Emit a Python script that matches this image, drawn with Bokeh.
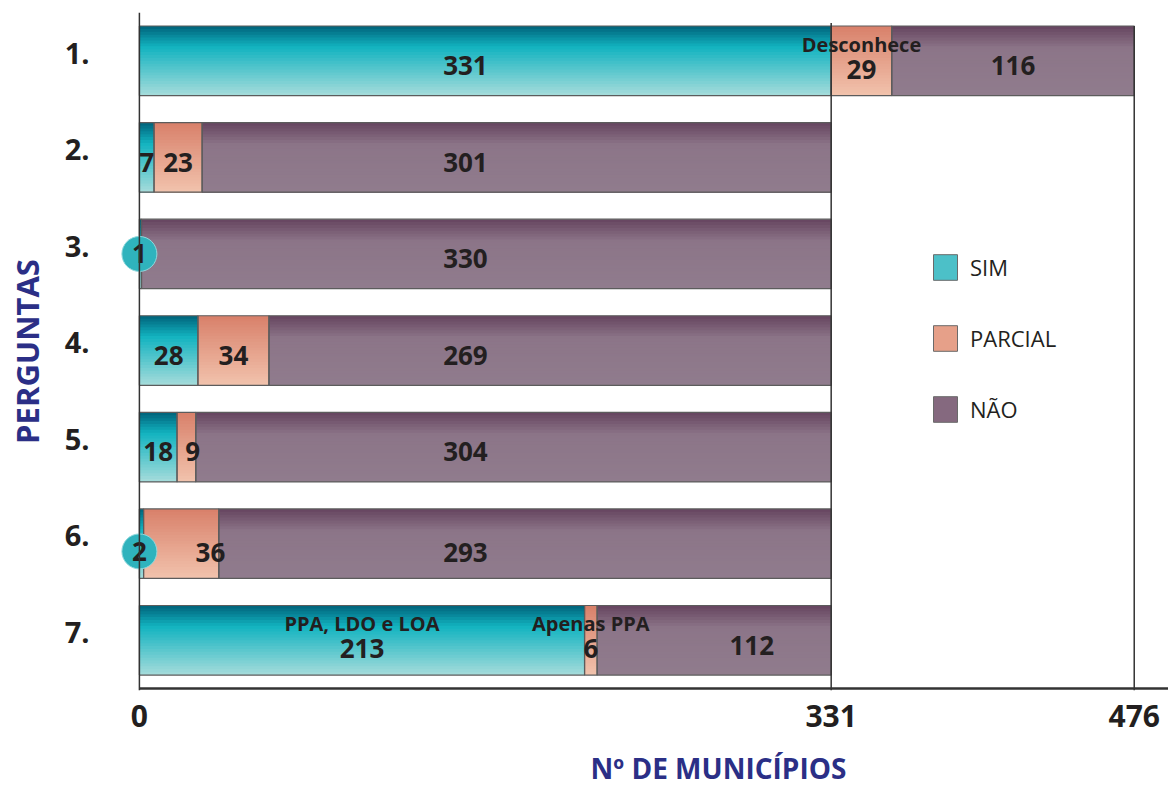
from bokeh.plotting import figure
from bokeh.models import (ColumnDataSource, FixedTicker, Legend, LegendItem,
                          Title, Range1d, Span)
from bokeh.embed import file_html
from bokeh.resources import INLINE
from bokeh.core.properties import value

# ---------------- data ----------------
questions = ["1.", "2.", "3.", "4.", "5.", "6.", "7."]
categories = ["SIM", "PARCIAL", "NÃO"]
sim = [331, 7, 1, 28, 18, 2, 213]
parcial = [29, 23, 0, 34, 9, 36, 6]
nao = [116, 301, 330, 269, 304, 293, 112]
# extra text shown above some segments: (question index, category index) -> text
sublabels = {(0, 1): "Desconhece", (6, 0): "PPA, LDO e LOA", (6, 1): "Apenas PPA"}

# ---------------- style ----------------
FONT = "Open Sans"
TXT = "#231f20"
NAVY = "#2b2f86"
BAR_H = 0.72
N_BANDS = 24
X_MIN, X_MAX = -10, 492.4
gradients = {
    "SIM": [(0.0, "#00627a"), (0.3, "#12b3c0"), (1.0, "#a6dcdb")],
    "PARCIAL": [(0.0, "#d8806a"), (1.0, "#f2c3ad")],
    "NÃO": [(0.0, "#66445f"), (0.32, "#8c7588"), (1.0, "#907c8d")],
}
legend_colors = {"SIM": "#4cc0c8", "PARCIAL": "#e6a089", "NÃO": "#85697f"}
nudges = {(5, 1): 14, (6, 2): 18, (4, 1): 3}   # label x nudges (style)


def hex2rgb(h):
    h = h.lstrip("#")
    return tuple(int(h[i:i + 2], 16) for i in (0, 2, 4))


def grad(stops, t):
    for (t0, c0), (t1, c1) in zip(stops, stops[1:]):
        if t <= t1:
            f = (t - t0) / (t1 - t0) if t1 > t0 else 0
            a, b = hex2rgb(c0), hex2rgb(c1)
            return "#%02x%02x%02x" % tuple(round(a[i] + (b[i] - a[i]) * f) for i in range(3))
    return stops[-1][1]


series = [sim, parcial, nao]
totals = [sum(s[i] for s in series) for i in range(len(questions))]
common_total = min(totals)
max_total = max(totals)

bands = dict(left=[], right=[], top=[], bottom=[], color=[])
borders = dict(left=[], right=[], top=[], bottom=[])
labels = dict(x=[], y=[], text=[])
sublab = dict(x=[], y=[], text=[])
dots = dict(x=[], y=[], text=[])

for r in range(len(questions)):
    yc = r + 1
    cum = 0
    for c, cat in enumerate(categories):
        v = series[c][r]
        if v <= 0:
            continue
        left, right = cum, cum + v
        cum = right
        top = yc - BAR_H / 2
        bot = yc + BAR_H / 2
        for k in range(N_BANDS):
            bands["left"].append(left)
            bands["right"].append(right)
            bands["top"].append(top + k * BAR_H / N_BANDS)
            bands["bottom"].append(bot)
            bands["color"].append(grad(gradients[cat], (k + 0.5) / N_BANDS))
        borders["left"].append(left)
        borders["right"].append(right)
        borders["top"].append(top)
        borders["bottom"].append(bot)
        has_sub = (r, c) in sublabels
        dy = 0.09 if (has_sub or r == 5) else 0.05
        if v <= 2:
            dots["x"].append(left)
            dots["y"].append(yc + (0.08 if r == 5 else 0.0))
            dots["text"].append(str(v))
            continue
        if v > 250:
            lx = 156
        else:
            lx = (left + right) / 2 + nudges.get((r, c), 0)
        labels["x"].append(lx)
        labels["y"].append(yc + dy)
        labels["text"].append(str(v))
        if has_sub:
            sublab["x"].append(lx)
            sublab["y"].append(yc - 0.17)
            sublab["text"].append(sublabels[(r, c)])

# ---------------- figure ----------------
p = figure(width=1168, height=803, output_backend="svg", toolbar_location=None,
           x_range=Range1d(X_MIN, X_MAX), y_range=Range1d(7.52, 0.5),
           min_border_left=118, min_border_right=0, min_border_top=12, min_border_bottom=112)
p.outline_line_color = None
p.grid.visible = False
p.background_fill_color = "white"

p.quad(left="left", right="right", top="top", bottom="bottom", fill_color="color",
       line_color=None, source=ColumnDataSource(bands))
p.quad(left="left", right="right", top="top", bottom="bottom", fill_color=None,
       line_color="#5c5c5c", line_width=1.2, source=ColumnDataSource(borders))

# reference lines
p.add_layout(Span(location=0, dimension="height", line_color="#333333", line_width=1.5))
p.segment(x0=[common_total, max_total], x1=[common_total, max_total],
          y0=[1 - BAR_H / 2 - 0.03, 1 - BAR_H / 2], y1=[7.52, 7.52],
          line_color="#333333", line_width=1.5)
p.segment(x0=[0], x1=[X_MAX], y0=[7.5], y1=[7.5], line_color="#333333", line_width=2.5)

p.text(x="x", y="y", text="text", source=ColumnDataSource(labels),
       text_font=value(FONT), text_font_style="bold", text_font_size="26px",
       text_color=TXT, text_align="center", text_baseline="middle")
p.text(x="x", y="y", text="text", source=ColumnDataSource(sublab),
       text_font=value(FONT), text_font_style="bold", text_font_size="20px",
       text_color=TXT, text_align="center", text_baseline="middle")
p.scatter(x="x", y="y", source=ColumnDataSource(dots), size=35,
          fill_color="#2fb3bd", line_color="#8fd8dc", line_width=1)
p.text(x="x", y="y", text="text", source=ColumnDataSource(dots),
       text_font=value(FONT), text_font_style="bold", text_font_size="26px",
       text_color=TXT, text_align="center", text_baseline="middle")

# axes
yticks = [r + 1 - 0.08 for r in range(len(questions))]
p.yaxis.ticker = FixedTicker(ticks=yticks)
p.yaxis.major_label_overrides = {t: q for t, q in zip(yticks, questions)}
p.yaxis.axis_line_color = None
p.yaxis.major_tick_line_color = None
p.yaxis.minor_tick_line_color = None
p.yaxis.major_tick_out = 0
p.yaxis.major_label_standoff = 29
p.yaxis.major_label_text_font = FONT
p.yaxis.major_label_text_font_style = "bold"
p.yaxis.major_label_text_font_size = "29px"
p.yaxis.major_label_text_color = TXT
p.yaxis.axis_label = "PERGUNTAS"
p.yaxis.axis_label_text_font = FONT
p.yaxis.axis_label_text_font_style = "bold"
p.yaxis.axis_label_text_font_size = "31px"
p.yaxis.axis_label_text_color = NAVY
p.yaxis.axis_label_standoff = 14

p.xaxis.ticker = FixedTicker(ticks=[0, common_total, max_total])
p.xaxis.axis_line_color = None
p.xaxis.major_tick_line_color = None
p.xaxis.minor_tick_line_color = None
p.xaxis.major_tick_out = 0
p.xaxis.major_label_standoff = 14
p.xaxis.major_label_text_font = FONT
p.xaxis.major_label_text_font_style = "bold"
p.xaxis.major_label_text_font_size = "30px"
p.xaxis.major_label_text_color = TXT

p.add_layout(Title(text="Nº DE MUNICÍPIOS", align="left", offset=472,
                   vertical_align="bottom",
                   text_font=FONT, text_font_style="bold", text_font_size="28px",
                   text_color=NAVY, standoff=34), "below")

# legend (proxy renderers placed outside the visible range)
items = []
for cat in categories:
    rr = p.quad(left=[X_MIN - 50], right=[X_MIN - 49], top=[0], bottom=[0.1],
                fill_color=legend_colors[cat], line_color="#6a6a6a", line_width=1)
    items.append(LegendItem(label=cat, renderers=[rr]))
legend = Legend(items=items, location=(812, 265), glyph_width=30, glyph_height=32,
                spacing=39, padding=0, margin=0, label_standoff=10,
                label_text_font=FONT, label_text_font_size="22px", label_text_color=TXT,
                border_line_color=None, background_fill_alpha=0)
p.add_layout(legend)

open("out.html", "w").write(file_html(p, INLINE))
